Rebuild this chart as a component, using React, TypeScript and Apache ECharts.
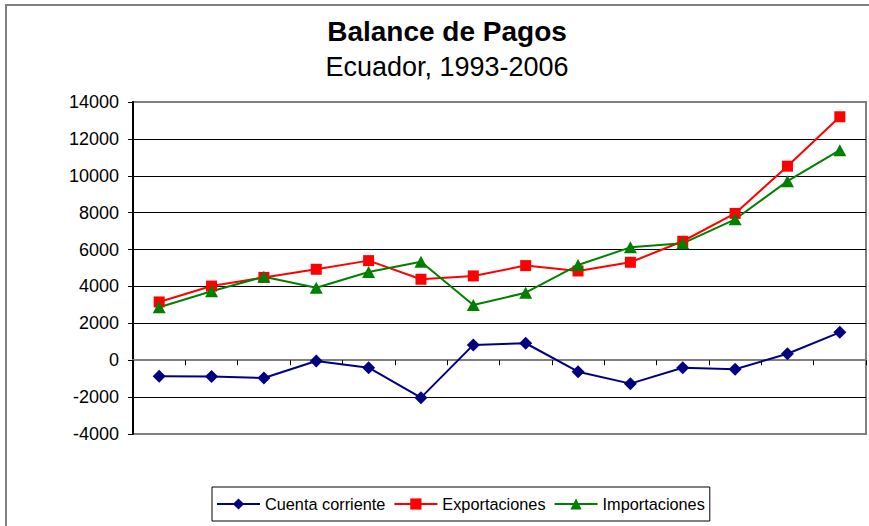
import React, { useEffect, useRef } from "react";
import * as echarts from "echarts";

const years = ["1993","1994","1995","1996","1997","1998","1999","2000","2001","2002","2003","2004","2005","2006"];
const cuentaCorriente = [-875, -880, -965, -40, -405, -2030, 830, 920, -620, -1270, -410, -490, 350, 1510];
const exportaciones = [3160, 4020, 4490, 4930, 5400, 4390, 4570, 5130, 4840, 5310, 6450, 7960, 10520, 13200];
const importaciones = [2870, 3740, 4530, 3930, 4780, 5340, 2990, 3660, 5160, 6120, 6340, 7640, 9710, 11390];
const yTicks = { min: -4000, max: 14000, interval: 2000 };
const titleText = "Balance de Pagos";
const subtitleText = "Ecuador, 1993-2006";

const FONT = "'Liberation Sans', Arial, sans-serif";

export default function App() {
  const ref = useRef<HTMLDivElement>(null);
  useEffect(() => {
    if (!ref.current) return;
    const chart = echarts.init(ref.current, null, { renderer: "svg" });
    chart.setOption({
      animation: false,
      backgroundColor: "#ffffff",
      textStyle: { fontFamily: FONT },
      graphic: [
        {
          type: "rect",
          silent: true,
          z: -10,
          shape: { x: 6, y: 5, width: 1000, height: 1000 },
          style: { fill: "none", stroke: "#808080", lineWidth: 2 },
        },
        {
          type: "text",
          x: 447,
          y: 31,
          style: {
            text: titleText,
            fontSize: 28,
            fontWeight: "bold",
            fontFamily: FONT,
            fill: "#000",
            textAlign: "center",
            textVerticalAlign: "middle",
          },
        },
        {
          type: "text",
          x: 447,
          y: 67,
          style: {
            text: subtitleText,
            fontSize: 27,
            fontFamily: FONT,
            fill: "#000",
            textAlign: "center",
            textVerticalAlign: "middle",
          },
        },
      ],
      grid: {
        left: 133,
        top: 102,
        right: 3,
        bottom: 92,
        show: true,
        borderColor: "#808080",
        borderWidth: 2,
        backgroundColor: "transparent",
      },
      legend: {
        left: 212,
        top: 487,
        padding: [9, 5, 9, 4],
        itemGap: 8,
        itemWidth: 43,
        itemHeight: 14,
        borderColor: "#000",
        borderWidth: 1,
        textStyle: { fontSize: 16.3, color: "#000", fontFamily: FONT },
        data: ["Cuenta corriente", "Exportaciones", "Importaciones"],
      },
      xAxis: {
        type: "category",
        data: years,
        boundaryGap: true,
        axisLine: { onZero: true, lineStyle: { color: "#808080", width: 2 } },
        axisTick: { show: true, length: 5, lineStyle: { color: "#000" } },
        axisLabel: { show: false },
        splitLine: { show: false },
      },
      yAxis: {
        type: "value",
        min: yTicks.min,
        max: yTicks.max,
        interval: yTicks.interval,
        axisLine: { show: true, lineStyle: { color: "#000", width: 2 } },
        axisTick: { show: true, length: 5, lineStyle: { color: "#000" } },
        axisLabel: {
          fontSize: 18,
          color: "#000",
          margin: 14,
          fontFamily: FONT,
          formatter: (v: number) => String(v),
        },
        splitLine: {
          show: true,
          showMinLine: false,
          showMaxLine: false,
          lineStyle: { color: "#000", width: 1 },
        },
      },
      series: [
        {
          name: "Cuenta corriente",
          type: "line",
          data: cuentaCorriente,
          symbol: "diamond",
          symbolSize: 13,
          lineStyle: { color: "#000080", width: 2 },
          itemStyle: { color: "#000080", borderWidth: 0 },
        },
        {
          name: "Exportaciones",
          type: "line",
          data: exportaciones,
          symbol: "rect",
          symbolSize: 11,
          lineStyle: { color: "#ff0000", width: 2 },
          itemStyle: { color: "#ff0000", borderWidth: 0 },
        },
        {
          name: "Importaciones",
          type: "line",
          data: importaciones,
          symbol: "triangle",
          symbolSize: [13, 12],
          lineStyle: { color: "#008000", width: 2 },
          itemStyle: { color: "#008000", borderWidth: 0 },
        },
      ],
    });
    return () => chart.dispose();
  }, []);
  return (
    <div
      ref={ref}
      style={{ position: "absolute", left: 0, top: 0, width: 869, height: 526, background: "#fff" }}
    />
  );
}
